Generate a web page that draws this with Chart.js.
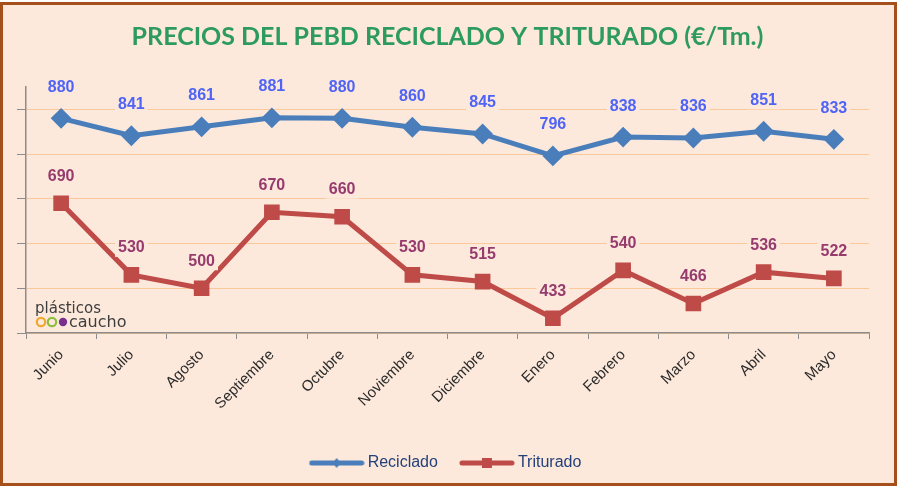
<!DOCTYPE html>
<html>
<head>
<meta charset="utf-8">
<script src="https://cdn.jsdelivr.net/npm/chart.js@4"></script>
<style>
  html, body { margin: 0; padding: 0; background: #ffffff; }
  #marco {
    position: absolute; left: 0; top: 2px; width: 897px; height: 484px;
    box-sizing: border-box; border: 3px solid #a5501c; background: #fde9db;
  }
  #grafico { position: absolute; left: 0; top: 0; }
</style>
</head>
<body>
<div id="marco"></div>
<canvas id="grafico" width="900" height="487"></canvas>
<script>
// Datos
const meses = ['Junio', 'Julio', 'Agosto', 'Septiembre', 'Octubre', 'Noviembre',
               'Diciembre', 'Enero', 'Febrero', 'Marzo', 'Abril', 'Mayo'];
const reciclado = [880, 841, 861, 881, 880, 860, 845, 796, 838, 836, 851, 833];
const triturado = [690, 530, 500, 670, 660, 530, 515, 433, 540, 466, 536, 522];
const ejeY = { min: 400, max: 950, paso: 100 };

const FONDO = '#fde9db';
const AZUL = '#4a7ebb';
const ROJO = '#be4b48';

/**
 * Icono de la leyenda: línea gruesa con el marcador en el centro
 */
function iconoLeyenda(color, forma) {
    const c = document.createElement('canvas');
    c.width = 56; c.height = 14;
    const ctx = c.getContext('2d');
    ctx.strokeStyle = color;
    ctx.lineWidth = 5;
    ctx.lineCap = 'round';
    ctx.beginPath();
    ctx.moveTo(3, 7); ctx.lineTo(53, 7);
    ctx.stroke();
    ctx.fillStyle = color;
    if (forma === 'rombo') {
        ctx.beginPath();
        ctx.moveTo(28, 2); ctx.lineTo(32, 7); ctx.lineTo(28, 12); ctx.lineTo(24, 7);
        ctx.closePath(); ctx.fill();
    } else {
        ctx.fillRect(23, 2, 10, 10);
    }
    return c;
}

// Etiquetas de valor sobre cada punto, con fondo para tapar la rejilla
const etiquetasValor = {
    id: 'etiquetasValor',
    afterDatasetsDraw(chart) {
        const ctx = chart.ctx;
        ctx.save();
        ctx.font = 'bold 16px "Liberation Sans", Arial, sans-serif';
        ctx.textAlign = 'center';
        ctx.textBaseline = 'middle';
        chart.data.datasets.forEach((ds, i) => {
            const meta = chart.getDatasetMeta(i);
            meta.data.forEach((pt, j) => {
                const txt = String(ds.data[j]);
                const y = pt.y - ds.desplazamiento;
                const w = ctx.measureText(txt).width;
                ctx.fillStyle = FONDO;
                ctx.fillRect(pt.x - w / 2 - 3, y - 9, w + 6, 18);
                ctx.fillStyle = ds.colorEtiqueta;
                ctx.fillText(txt, pt.x, y);
            });
        });
        ctx.restore();
    }
};

// Logotipo "plásticos caucho" en la esquina inferior izquierda
const logotipo = {
    id: 'logotipo',
    afterDraw(chart) {
        const ctx = chart.ctx;
        ctx.save();
        ctx.fillStyle = '#3d3d3d';
        ctx.font = '15px "DejaVu Sans", sans-serif';
        ctx.textBaseline = 'alphabetic';
        ctx.fillText('plásticos', 35, 313);
        const colores = ['#f0a830', '#8cbf3f', '#7a2f8f'];
        colores.forEach((col, k) => {
            ctx.beginPath();
            ctx.arc(41 + k * 11, 322, 4.2, 0, Math.PI * 2);
            if (k === 2) { ctx.fillStyle = col; ctx.fill(); }
            else { ctx.strokeStyle = col; ctx.lineWidth = 2.2; ctx.stroke(); }
        });
        ctx.fillStyle = '#3d3d3d';
        ctx.font = '16px "DejaVu Sans", sans-serif';
        ctx.fillText('caucho', 69, 327);
        ctx.restore();
    }
};

const ctx = document.getElementById('grafico').getContext('2d');
new Chart(ctx, {
    type: 'line',
    data: {
        labels: meses,
        datasets: [{
            label: 'Reciclado',
            data: reciclado,
            borderColor: AZUL,
            backgroundColor: AZUL,
            borderWidth: 5,
            pointStyle: 'rectRot',
            pointRadius: 9,
            pointBorderWidth: 2,
            tension: 0,
            colorEtiqueta: '#4f64f6',
            desplazamiento: 31
        }, {
            label: 'Triturado',
            data: triturado,
            borderColor: ROJO,
            backgroundColor: ROJO,
            borderWidth: 5,
            pointStyle: 'rect',
            pointRadius: 10,
            pointBorderWidth: 1.5,
            tension: 0,
            colorEtiqueta: '#973a6d',
            desplazamiento: 27
        }]
    },
    options: {
        responsive: false,
        animation: false,
        layout: { padding: { left: 0, right: 31, top: 0, bottom: 6 } },
        plugins: {
            title: {
                display: true,
                fullSize: false,
                text: 'PRECIOS DEL PEBD RECICLADO Y TRITURADO (€/Tm.)',
                color: '#2e9b5e',
                font: { family: 'Lato', size: 25, weight: 'bold' },
                padding: { top: 22, bottom: 35 }
            },
            legend: {
                position: 'bottom',
                fullSize: false,
                labels: {
                    usePointStyle: true,
                    pointStyleWidth: 46,
                    padding: 26,
                    color: '#24407a',
                    font: { family: '"Liberation Sans", Arial', size: 16 },
                    generateLabels(chart) {
                        return chart.data.datasets.map((ds, i) => ({
                            text: ds.label,
                            pointStyle: iconoLeyenda(ds.borderColor, i === 0 ? 'rombo' : 'cuadro'),
                            fontColor: '#24407a',
                            lineWidth: 0,
                            strokeStyle: 'transparent',
                            datasetIndex: i
                        }));
                    }
                }
            },
            tooltip: { enabled: false }
        },
        scales: {
            x: {
                offset: true,
                grid: {
                    offset: true,
                    drawOnChartArea: false,
                    tickLength: 6,
                    tickColor: '#8c8c8c'
                },
                border: { color: '#8c8c8c', width: 1.5 },
                ticks: {
                    autoSkip: false,
                    minRotation: 45,
                    maxRotation: 45,
                    padding: 7,
                    color: '#2b2b2b',
                    font: { family: '"Liberation Sans", Arial', size: 15 }
                },
                afterFit(scale) { scale.height = 96; }
            },
            y: {
                min: ejeY.min,
                max: ejeY.max,
                grid: {
                    color: '#fbc89a',
                    lineWidth: 1,
                    tickLength: 9,
                    tickColor: '#8c8c8c'
                },
                border: { color: '#8c8c8c', width: 1.5 },
                ticks: { display: false, stepSize: ejeY.paso, includeBounds: false },
                afterFit(scale) { scale.width = 26; }
            }
        }
    },
    plugins: [etiquetasValor, logotipo]
});
</script>
</body>
</html>
